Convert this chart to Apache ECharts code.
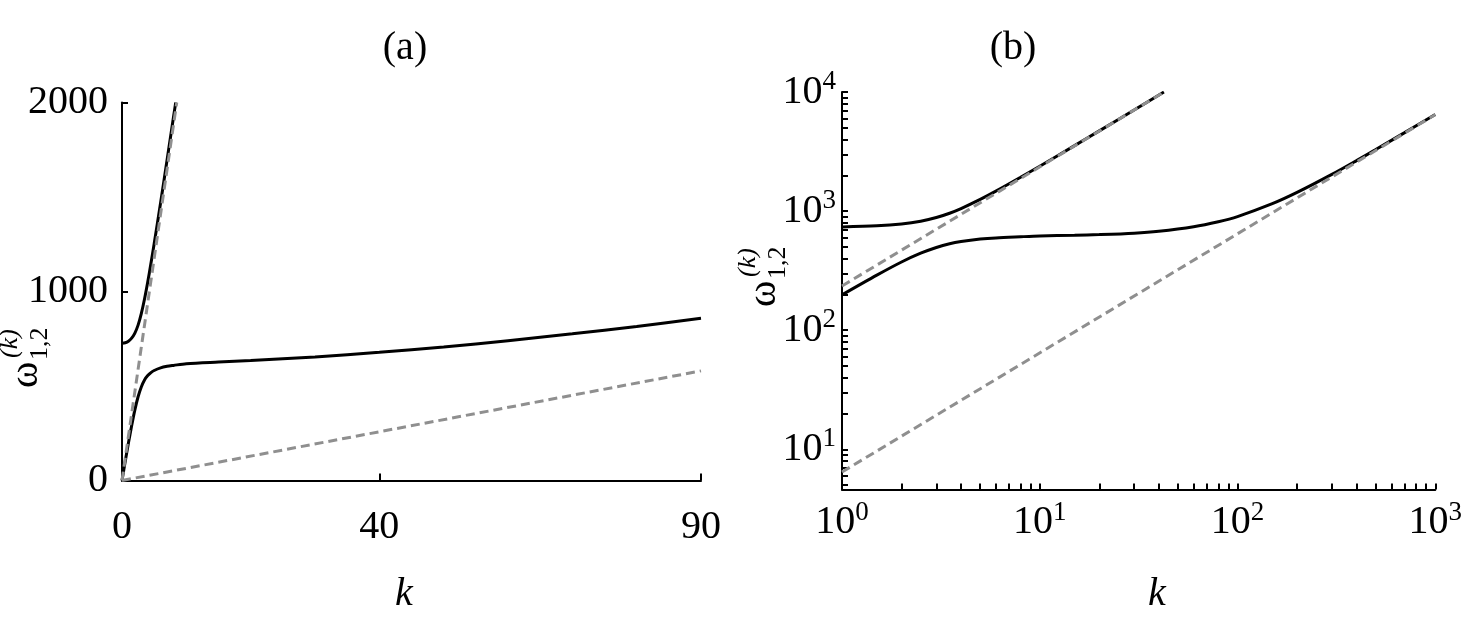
<!DOCTYPE html>
<html><head><meta charset="utf-8">
<script src="https://cdn.jsdelivr.net/npm/echarts@6/dist/echarts.min.js"></script>
<style>html,body{margin:0;padding:0;background:#fff}#c{width:1465px;height:627px}</style>
</head><body><div id="c"></div>
<script>
// ---------- Panel (a): linear axes ----------
const kUpperA = [0, 0.5, 1, 1.5, 2, 2.5, 3, 3.5, 4, 4.5, 5, 6, 7, 8, 8.35];
const wUpperA = [726, 729, 737, 753, 780, 822, 883, 960, 1050, 1149, 1253, 1470, 1694, 1922, 2000];
const kLowerA = [0, 0.5, 1, 1.5, 2, 2.5, 3, 3.5, 4, 4.5, 5, 6, 7, 8, 10, 15, 20, 30, 40, 50, 60, 70, 80, 90];
const wLowerA = [0, 100, 198, 290, 374, 443, 495, 532, 555, 571, 582, 596, 604, 609, 618, 627, 635, 653, 678, 706, 740, 776, 815, 858];
const kDash1A = [0, 8.51];
const wDash1A = [0, 2000];
const kDash2A = [0, 90];
const wDash2A = [0, 580];
const xLabelsA = [0, 40, 90];

// ---------- Panel (b): log-log axes ----------
const kUpperB = [1, 1.5, 2, 2.5, 3, 3.5, 4, 5, 6, 8, 10, 15, 20, 30, 42.45];
const wUpperB = [737, 753, 780, 822, 883, 960, 1050, 1253, 1470, 1922, 2382, 3546, 4715, 7060, 10000];
const kLowerB = [1, 1.5, 2, 2.5, 3, 3.5, 4, 5, 6, 8, 10, 15, 20, 30, 40, 60, 80, 100, 150, 200, 300, 400, 500, 700, 1000];
const wLowerB = [198, 290, 374, 443, 495, 532, 555, 582, 596, 609, 618, 627, 635, 653, 678, 740, 815, 900, 1154, 1435, 2034, 2655, 3286, 4558, 6480];
const kDash1B = [1, 42.55];
const wDash1B = [235, 10000];
const kDash2B = [1, 1000];
const wDash2B = [6.45, 6450];
const xLabelsB = [1, 10, 100, 1000];
const yLabelsB = [10, 100, 1000, 10000];
const xTicksB = [];
for (const d of [1, 10, 100]) for (let m = 1; m <= 9; m++) xTicksB.push(m * d);
xTicksB.push(1000);
const yTicksB = [5, 6, 7, 8, 9];
for (const d of [10, 100, 1000]) for (let m = 1; m <= 9; m++) yTicksB.push(m * d);
yTicksB.push(10000);

const zip = (a, b) => a.map((v, i) => [v, b[i]]);
const FONT = 'Liberation Serif';
const solid = { color: '#000', width: 3 };
const dashed = { color: '#8f8f8f', width: 3, type: [9, 5] };

function supLabel(v) {
  const e = Math.round(Math.log10(v));
  return '{b|10}{s|' + e + '}';
}
const rich = {
  b: { fontSize: 40, fontFamily: FONT, color: '#000', lineHeight: 40 },
  s: { fontSize: 27, fontFamily: FONT, color: '#000', lineHeight: 27, padding: [0, 0, 20, 0] }
};
const axisLine = { show: true, onZero: false, lineStyle: { color: '#000', width: 2 } };

const chart = echarts.init(document.getElementById('c'), null, { renderer: 'canvas' });
chart.setOption({
  animation: false,
  backgroundColor: '#fff',
  grid: [
    { left: 122, top: 102.5, width: 579, height: 378 },
    { left: 842, top: 92, width: 603, height: 397.5 }
  ],
  xAxis: [
    {
      gridIndex: 0, type: 'value', min: 0, max: 90,
      axisLine, splitLine: { show: false },
      axisTick: { show: true, inside: true, length: 7, lineStyle: { color: '#000', width: 2 }, customValues: xLabelsA },
      axisLabel: { customValues: xLabelsA, margin: 27, fontSize: 40, lineHeight: 40, fontFamily: FONT, color: '#000', formatter: v => String(v) }
    },
    {
      gridIndex: 1, type: 'log', logBase: 10, min: 1, max: 1000,
      axisLine, splitLine: { show: false },
      axisTick: { show: true, inside: true, length: 6, lineStyle: { color: '#000', width: 2 }, customValues: xTicksB },
      axisLabel: { customValues: xLabelsB, margin: 13, formatter: supLabel, rich }
    }
  ],
  yAxis: [
    {
      gridIndex: 0, type: 'value', min: 0, max: 2000, interval: 1000,
      axisLine, splitLine: { show: false },
      axisTick: { show: true, inside: true, length: 6, lineStyle: { color: '#000', width: 2 } },
      axisLabel: { margin: 14, fontSize: 40, fontFamily: FONT, color: '#000', formatter: v => String(v) }
    },
    {
      gridIndex: 1, type: 'log', logBase: 10, min: 4.6, max: 10000,
      axisLine, splitLine: { show: false },
      axisTick: { show: true, inside: true, length: 6, lineStyle: { color: '#000', width: 2 }, customValues: yTicksB },
      axisLabel: { customValues: yLabelsB, margin: 6, formatter: supLabel, rich }
    }
  ],
  series: [
    { type: 'line', xAxisIndex: 0, yAxisIndex: 0, data: zip(kUpperA, wUpperA), showSymbol: false, smooth: 0.3, lineStyle: solid, z: 2 },
    { type: 'line', xAxisIndex: 0, yAxisIndex: 0, data: zip(kLowerA, wLowerA), showSymbol: false, smooth: 0.3, lineStyle: solid, z: 2 },
    { type: 'line', xAxisIndex: 0, yAxisIndex: 0, data: zip(kDash1A, wDash1A), showSymbol: false, lineStyle: dashed, z: 3 },
    { type: 'line', xAxisIndex: 0, yAxisIndex: 0, data: zip(kDash2A, wDash2A), showSymbol: false, lineStyle: dashed, z: 3 },
    { type: 'line', xAxisIndex: 1, yAxisIndex: 1, data: zip(kUpperB, wUpperB), showSymbol: false, smooth: 0.3, lineStyle: solid, z: 2 },
    { type: 'line', xAxisIndex: 1, yAxisIndex: 1, data: zip(kLowerB, wLowerB), showSymbol: false, smooth: 0.3, lineStyle: solid, z: 2 },
    { type: 'line', xAxisIndex: 1, yAxisIndex: 1, data: zip(kDash1B, wDash1B), showSymbol: false, lineStyle: dashed, z: 3 },
    { type: 'line', xAxisIndex: 1, yAxisIndex: 1, data: zip(kDash2B, wDash2B), showSymbol: false, lineStyle: dashed, z: 3 }
  ],
  graphic: [
    { type: 'text', x: 405, y: 48, style: { text: '(a)', font: '40px "Liberation Serif"', fill: '#000', textAlign: 'center', textVerticalAlign: 'middle' } },
    { type: 'text', x: 1013, y: 48, style: { text: '(b)', font: '40px "Liberation Serif"', fill: '#000', textAlign: 'center', textVerticalAlign: 'middle' } },
    { type: 'text', x: 404, y: 594, style: { text: 'k', font: 'italic 40px "Liberation Serif"', fill: '#000', textAlign: 'center', textVerticalAlign: 'middle' } },
    { type: 'text', x: 1157, y: 594, style: { text: 'k', font: 'italic 40px "Liberation Serif"', fill: '#000', textAlign: 'center', textVerticalAlign: 'middle' } },
    {
      type: 'group', x: 30, y: 388, rotation: Math.PI / 2,
      children: [
        { type: 'text', x: 0, y: -4, style: { text: 'ω', font: '40px "Liberation Serif"', fill: '#000', textAlign: 'left', textVerticalAlign: 'middle' } },
        { type: 'text', x: 30, y: -20, style: { text: '(k)', font: 'italic 26px "Liberation Serif"', fill: '#000', textAlign: 'left', textVerticalAlign: 'middle' } },
        { type: 'text', x: 28, y: 10, style: { text: '1,2', font: '26px "Liberation Serif"', fill: '#000', textAlign: 'left', textVerticalAlign: 'middle' } }
      ]
    },
    {
      type: 'group', x: 768, y: 307, rotation: Math.PI / 2,
      children: [
        { type: 'text', x: 0, y: -4, style: { text: 'ω', font: '40px "Liberation Serif"', fill: '#000', textAlign: 'left', textVerticalAlign: 'middle' } },
        { type: 'text', x: 30, y: -20, style: { text: '(k)', font: 'italic 26px "Liberation Serif"', fill: '#000', textAlign: 'left', textVerticalAlign: 'middle' } },
        { type: 'text', x: 28, y: 10, style: { text: '1,2', font: '26px "Liberation Serif"', fill: '#000', textAlign: 'left', textVerticalAlign: 'middle' } }
      ]
    }
  ]
});
</script>
</body></html>
